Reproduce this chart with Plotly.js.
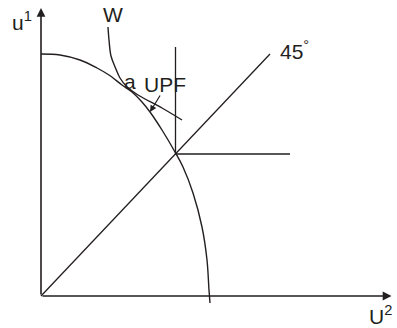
<!DOCTYPE html>
<html><head><meta charset="utf-8">
<script src="https://cdn.plot.ly/plotly-3.0.1.min.js"></script>
<style>html,body{margin:0;padding:0;background:#fff}#c{width:397px;height:328px}</style>
</head><body><div id="c"></div>
<script>
// Utility possibility frontier (UPF)
const upfX = [0, 19, 39, 56, 68, 81, 91, 101, 109, 121, 134, 142, 152, 161, 166, 168, 169];
const upfY = [242, 241, 236, 228, 221, 211, 204, 194, 184, 166, 144, 129, 103, 69, 36, 6, -7];
// Social welfare indifference curve W
const wX = [67, 68, 70, 74.5, 79, 85.7, 97, 121, 141];
const wY = [269, 256, 240, 228, 218, 209.5, 201, 188, 176];
// 45 degree line
const diagX = [0, 229];
const diagY = [0, 242];
// L-shaped (Rawlsian) contour
const lX = [134.5, 134.5, 249];
const lY = [249, 142, 142];
// arrow from UPF label to curve
const arrowFrom = [120, 202];
const arrowTo = [109, 184];
// axis ends
const xAxisEnd = 350.5;
const yAxisEnd = 288;
// text labels inside the plot (data coordinates)
const labelText = ['W', 'a', 'UPF', '45<sup>°</sup>'];
const labelX = [71.5, 88.5, 124, 237];
const labelY = [282, 215, 212, 246];
// axis titles (paper coordinates)
const axisText = ['u<sup>1</sup>', 'U<sup>2</sup>'];
const axisPX = [-0.072, 1.0085];
const axisPY = [0.958, -0.03];
const axisAnchor = ['left', 'right'];

const ink = '#231f20';
const font = {family: 'Liberation Sans, Arial, sans-serif', size: 21, color: ink};

const traces = [
  {x: upfX, y: upfY, mode: 'lines', line: {color: ink, width: 1.4, shape: 'spline'}},
  {x: wX, y: wY, mode: 'lines', line: {color: ink, width: 1.4, shape: 'spline'}},
  {x: diagX, y: diagY, mode: 'lines', line: {color: ink, width: 1.3}},
  {x: lX, y: lY, mode: 'lines', line: {color: ink, width: 1.3}}
];

const ann = [
  {x: xAxisEnd, y: 0, ax: 0, ay: 0, axref: 'x', ayref: 'y', xref: 'x', yref: 'y', text: '', showarrow: true,
   arrowhead: 2, arrowsize: 1.1, arrowwidth: 1.6, arrowcolor: ink},
  {x: 0, y: yAxisEnd, ax: 0, ay: 0, axref: 'x', ayref: 'y', xref: 'x', yref: 'y', text: '', showarrow: true,
   arrowhead: 2, arrowsize: 1.1, arrowwidth: 1.6, arrowcolor: ink},
  {x: arrowTo[0], y: arrowTo[1], ax: arrowFrom[0], ay: arrowFrom[1], axref: 'x', ayref: 'y', xref: 'x', yref: 'y',
   text: '', showarrow: true, arrowhead: 2, arrowsize: 1.1, arrowwidth: 1.2, arrowcolor: ink}
];
for (let i = 0; i < labelText.length; i++) {
  ann.push({x: labelX[i], y: labelY[i], xref: 'x', yref: 'y', text: labelText[i], showarrow: false,
    xanchor: (i === 3 ? 'left' : 'center'), yanchor: 'middle', font: font});
}
for (let i = 0; i < axisText.length; i++) {
  ann.push({x: axisPX[i], y: axisPY[i], xref: 'paper', yref: 'paper', text: axisText[i], showarrow: false,
    xanchor: axisAnchor[i], yanchor: 'middle', font: font});
}

const layout = {
  width: 397, height: 328,
  margin: {l: 36, r: 6, t: 8, b: 22},
  paper_bgcolor: '#fff', plot_bgcolor: '#fff',
  showlegend: false,
  xaxis: {range: [-5, 350], visible: false, fixedrange: true},
  yaxis: {range: [-10, 288], visible: false, fixedrange: true},
  annotations: ann
};
Plotly.newPlot('c', traces, layout, {staticPlot: true});
</script></body></html>
